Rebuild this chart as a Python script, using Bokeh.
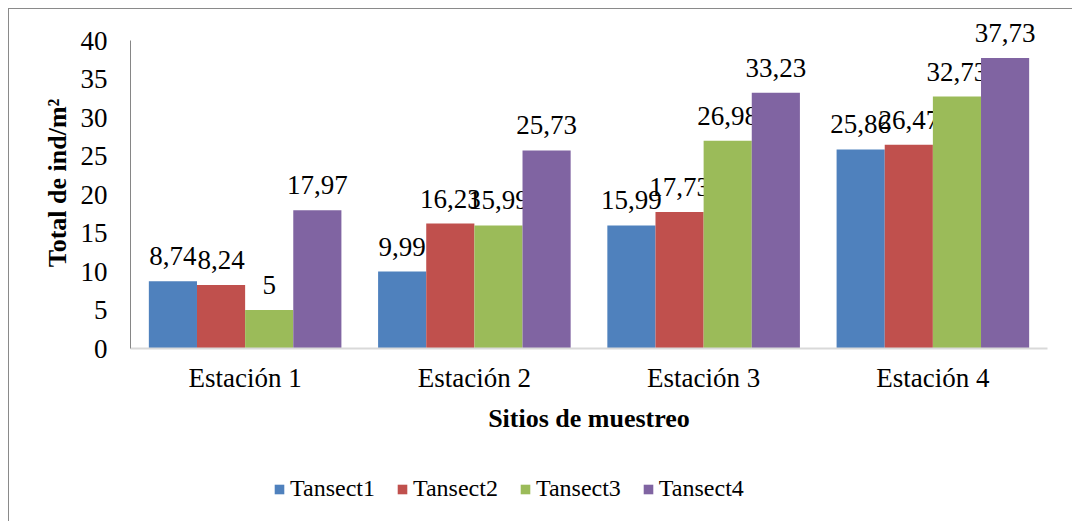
from bokeh.plotting import figure
from bokeh.layouts import column
from bokeh.models import ColumnDataSource, FactorRange, Range1d, Legend, LegendItem, SingleIntervalTicker
from bokeh.transform import dodge
from bokeh.core.properties import value
from bokeh.embed import file_html
from bokeh.resources import INLINE

stations = ["Estación 1", "Estación 2", "Estación 3", "Estación 4"]
series_names = ["Tansect1", "Tansect2", "Tansect3", "Tansect4"]
tansect1 = [8.74, 9.99, 15.99, 25.86]
tansect2 = [8.24, 16.23, 17.73, 26.47]
tansect3 = [5, 15.99, 26.98, 32.73]
tansect4 = [17.97, 25.73, 33.23, 37.73]
series_values = [tansect1, tansect2, tansect3, tansect4]
colors = ["#4F81BD", "#C0504D", "#9BBB59", "#8064A2"]

FONT = "Liberation Serif"

p = figure(x_range=FactorRange(*stations, range_padding=0), y_range=Range1d(0, 43),
           frame_width=917, frame_height=331, output_backend="svg", toolbar_location=None,
           min_border_left=121, min_border_top=8, min_border_right=25, min_border_bottom=90)
p.outline_line_color = None
p.grid.visible = False

bw = 0.21
for i, (name, vals) in enumerate(zip(series_names, series_values)):
    src = ColumnDataSource(dict(station=stations, val=vals,
                                lab=[f"{v:g}".replace(".", ",") for v in vals]))
    off = (i - 1.5) * bw
    p.vbar(x=dodge("station", off, range=p.x_range), top="val", width=bw, bottom=0,
           source=src, fill_color=colors[i], line_color=None)
    p.text(x=dodge("station", off, range=p.x_range), y="val", text="lab", source=src,
           text_align="center", text_baseline="bottom", y_offset=-16,
           text_font=value(FONT), text_font_size="27px", text_color="black")

# y axis
ya = p.yaxis[0]
ya.ticker = SingleIntervalTicker(interval=5)
ya.bounds = (0, 40)
ya.axis_label = "Total de ind/m²"
ya.axis_label_text_font = FONT
ya.axis_label_text_font_style = "bold"
ya.axis_label_text_font_size = "26px"
ya.axis_label_text_color = "black"
ya.axis_label_standoff = 6
ya.major_label_text_font = FONT
ya.major_label_text_font_size = "27px"
ya.major_label_text_color = "black"
ya.major_label_standoff = 17
ya.major_tick_line_color = None
ya.minor_tick_line_color = None
ya.axis_line_color = "#868686"

# x axis
xa = p.xaxis[0]
xa.axis_label = "Sitios de muestreo"
xa.axis_label_text_font = FONT
xa.axis_label_text_font_style = "bold"
xa.axis_label_text_font_size = "26px"
xa.axis_label_text_color = "black"
xa.axis_label_standoff = 8
xa.major_label_text_font = FONT
xa.major_label_text_font_size = "27px"
xa.major_label_text_color = "black"
xa.major_label_standoff = 8
xa.major_tick_line_color = None
xa.axis_line_color = "#d9d9d9"
xa.axis_line_width = 2

# legend strip below the chart (legend swatches use off-range placeholder bars)
lg = figure(width=1063, height=83, x_range=Range1d(0, 1), y_range=Range1d(0, 1),
            x_axis_type=None, y_axis_type=None, output_backend="svg", toolbar_location=None,
            min_border=0, outline_line_color=None)
lg.grid.visible = False
items = []
for name, c in zip(series_names, colors):
    r = lg.vbar(x=[-5], top=[-5], bottom=[-6], width=0.1, fill_color=c, line_color=None)
    items.append(LegendItem(label=name, renderers=[r]))
legend = Legend(items=items, orientation="horizontal", location=(143, 19),
                label_text_font=FONT, label_text_font_size="24px", label_text_color="black",
                glyph_width=12, glyph_height=12, label_standoff=5, spacing=21,
                border_line_color=None, background_fill_alpha=0, padding=0, margin=0)
lg.add_layout(legend, "center")

layout = column(p, lg, spacing=0)
layout.styles = {"margin-left": "8px", "margin-top": "8px",
                 "border-left": "1px solid #8a8a8a", "border-top": "1px solid #8a8a8a"}

open("out.html", "w").write(file_html(layout, INLINE))
